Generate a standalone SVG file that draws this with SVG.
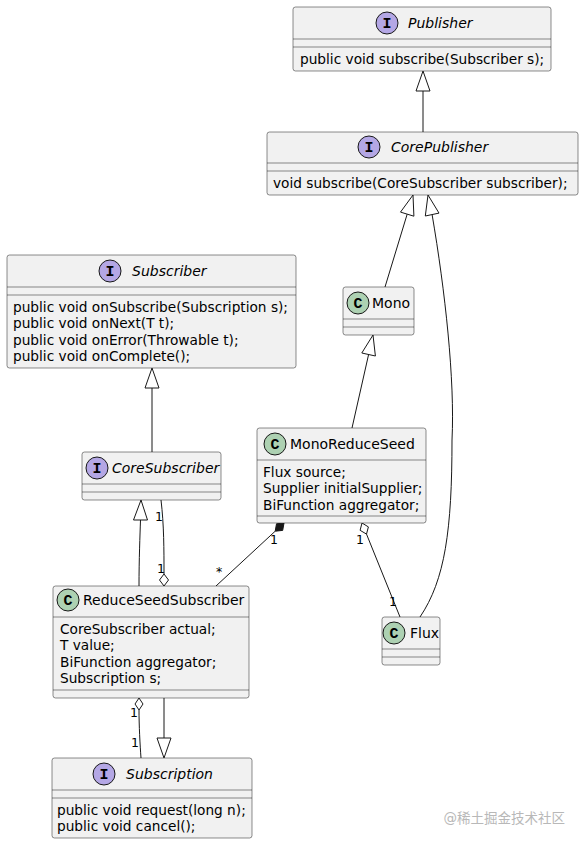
<svg xmlns="http://www.w3.org/2000/svg" width="584" height="844" viewBox="0 0 584 844">
<style>
.box{fill:#F1F1F1;stroke:#181818;stroke-width:0.5}
.sep{stroke:#181818;stroke-width:0.5}
.ci{fill:#B4A7E5;stroke:#181818;stroke-width:1}
.cc{fill:#ADD1B2;stroke:#181818;stroke-width:1}
.g{font-family:"Liberation Mono",monospace;font-weight:bold;font-size:15px;text-anchor:middle;fill:#000}
.n{font-family:"DejaVu Sans",sans-serif;font-size:14px;fill:#000}
.i{font-style:italic}
.f{font-family:"DejaVu Sans",sans-serif;font-size:13.7px;fill:#000}
.l{font-family:"DejaVu Sans",sans-serif;font-size:12.5px;fill:#000}
.c{fill:none;stroke:#181818;stroke-width:1}
.th{fill:#FFFFFF;stroke:#181818;stroke-width:1}
.df{fill:#181818;stroke:#181818;stroke-width:1}
.wm{font-family:"DejaVu Sans","Noto Sans CJK SC",sans-serif;font-size:13.5px;fill:#B8B8B8;text-anchor:end}
</style>

<g id="connectors">
  <path class="c" d="M423,132 L423,91"/>
  <polygon class="th" points="416,91 423,71 430,91"/>
  <path class="c" d="M385,287 L407.2,214.1"/>
  <polygon class="th" points="400.5,212.1 413,195 413.9,216.2"/>
  <path class="c" d="M420,617 C445,580 452,530 452,440 C455,380 445,290 432.1,214.6"/>
  <polygon class="th" points="425.3,216 428,195 439,213.1"/>
  <path class="c" d="M352,428 L368.6,354.5"/>
  <polygon class="th" points="361.8,353 373,335 375.4,356"/>
  <path class="c" d="M152,452 L152,388"/>
  <polygon class="th" points="145,388 152,368 159,388"/>
  <path class="c" d="M139,586 C139,560 140,535 140.5,520"/>
  <polygon class="th" points="133.5,520 141,500 147.5,520"/>
  <path class="c" d="M161,500 C164,525 164,550 164,574"/>
  <polygon class="th" points="164,574 168.5,580 164,586 159.5,580"/>
  <text class="l" x="155" y="521">1</text>
  <text class="l" x="157" y="573">1</text>
  <path class="c" d="M275.2,531.2 L216,586"/>
  <polygon class="df" points="284,523 282.7,530.4 275.2,531.2 276.5,523.8"/>
  <text class="l" x="270" y="544">1</text>
  <text class="l" x="216" y="576">*</text>
  <path class="c" d="M366.5,534.1 L400,617"/>
  <polygon class="th" points="362,523 368.4,526.9 366.5,534.1 360.1,530.3"/>
  <text class="l" x="356" y="544">1</text>
  <text class="l" x="389" y="606">1</text>
  <path class="c" d="M139,710 C139,725 140,745 141,758"/>
  <polygon class="th" points="139,698 143,704 139,710 135,704"/>
  <text class="l" x="130" y="717">1</text>
  <text class="l" x="131" y="747">1</text>
  <path class="c" d="M164,698 L164,738"/>
  <polygon class="th" points="157,738 164,758 171,738"/>
</g>

<g id="Publisher">
  <rect class="box" x="293" y="7" width="258" height="64" rx="2.5"/>
  <line class="sep" x1="293" y1="39" x2="551" y2="39"/>
  <line class="sep" x1="293" y1="47" x2="551" y2="47"/>
  <circle class="ci" cx="387" cy="23" r="11"/>
  <text class="g" x="387" y="28">I</text>
  <text class="n i" x="408" y="28">Publisher</text>
  <text class="f" x="300" y="64">public void subscribe(Subscriber s);</text>
</g>

<g id="CorePublisher">
  <rect class="box" x="267" y="132" width="311" height="63" rx="2.5"/>
  <line class="sep" x1="267" y1="163" x2="578" y2="163"/>
  <line class="sep" x1="267" y1="171" x2="578" y2="171"/>
  <circle class="ci" cx="369" cy="147" r="11"/>
  <text class="g" x="369" y="152">I</text>
  <text class="n i" x="391" y="152">CorePublisher</text>
  <text class="f" x="273" y="188">void subscribe(CoreSubscriber subscriber);</text>
</g>

<g id="Subscriber">
  <rect class="box" x="7" y="255" width="289" height="113" rx="2.5"/>
  <line class="sep" x1="7" y1="287" x2="296" y2="287"/>
  <line class="sep" x1="7" y1="295" x2="296" y2="295"/>
  <circle class="ci" cx="110" cy="271" r="11"/>
  <text class="g" x="110" y="276">I</text>
  <text class="n i" x="132" y="276">Subscriber</text>
  <text class="f" x="13" y="312">public void onSubscribe(Subscription s);</text>
  <text class="f" x="13" y="328.3">public void onNext(T t);</text>
  <text class="f" x="13" y="344.6">public void onError(Throwable t);</text>
  <text class="f" x="13" y="360.9">public void onComplete();</text>
</g>

<g id="CoreSubscriber">
  <rect class="box" x="82" y="452" width="139" height="48" rx="2.5"/>
  <line class="sep" x1="82" y1="484" x2="221" y2="484"/>
  <line class="sep" x1="82" y1="492" x2="221" y2="492"/>
  <circle class="ci" cx="97" cy="468" r="11"/>
  <text class="g" x="97" y="473">I</text>
  <text class="n i" x="112" y="473">CoreSubscriber</text>
</g>

<g id="Mono">
  <rect class="box" x="343" y="287" width="71" height="48" rx="2.5"/>
  <line class="sep" x1="343" y1="319" x2="414" y2="319"/>
  <line class="sep" x1="343" y1="327" x2="414" y2="327"/>
  <circle class="cc" cx="358" cy="303" r="11"/>
  <text class="g" x="358" y="308">C</text>
  <text class="n" x="372" y="308">Mono</text>
</g>

<g id="MonoReduceSeed">
  <rect class="box" x="257" y="428" width="169" height="95" rx="2.5"/>
  <line class="sep" x1="257" y1="460" x2="426" y2="460"/>
  <line class="sep" x1="257" y1="516" x2="426" y2="516"/>
  <circle class="cc" cx="275" cy="444" r="11"/>
  <text class="g" x="275" y="449">C</text>
  <text class="n" x="290" y="449">MonoReduceSeed</text>
  <text class="f" x="263" y="477">Flux source;</text>
  <text class="f" x="263" y="493.3">Supplier initialSupplier;</text>
  <text class="f" x="263" y="509.6">BiFunction aggregator;</text>
</g>

<g id="Flux">
  <rect class="box" x="382" y="617" width="58" height="48" rx="2.5"/>
  <line class="sep" x1="382" y1="649" x2="440" y2="649"/>
  <line class="sep" x1="382" y1="657" x2="440" y2="657"/>
  <circle class="cc" cx="394" cy="633" r="11"/>
  <text class="g" x="394" y="638">C</text>
  <text class="n" x="410" y="638">Flux</text>
</g>

<g id="ReduceSeedSubscriber">
  <rect class="box" x="53" y="586" width="196" height="112" rx="2.5"/>
  <line class="sep" x1="53" y1="617" x2="249" y2="617"/>
  <line class="sep" x1="53" y1="690" x2="249" y2="690"/>
  <circle class="cc" cx="68" cy="600" r="11"/>
  <text class="g" x="68" y="605">C</text>
  <text class="n" x="83" y="605">ReduceSeedSubscriber</text>
  <text class="f" x="60" y="634">CoreSubscriber actual;</text>
  <text class="f" x="60" y="650.3">T value;</text>
  <text class="f" x="60" y="666.6">BiFunction aggregator;</text>
  <text class="f" x="60" y="682.9">Subscription s;</text>
</g>

<g id="Subscription">
  <rect class="box" x="52" y="758" width="200" height="80" rx="2.5"/>
  <line class="sep" x1="52" y1="790" x2="252" y2="790"/>
  <line class="sep" x1="52" y1="798" x2="252" y2="798"/>
  <circle class="ci" cx="104" cy="774" r="11"/>
  <text class="g" x="104" y="779">I</text>
  <text class="n i" x="126" y="779">Subscription</text>
  <text class="f" x="57" y="815">public void request(long n);</text>
  <text class="f" x="57" y="831">public void cancel();</text>
</g>

<text class="wm" x="565" y="823">@稀土掘金技术社区</text>
</svg>
